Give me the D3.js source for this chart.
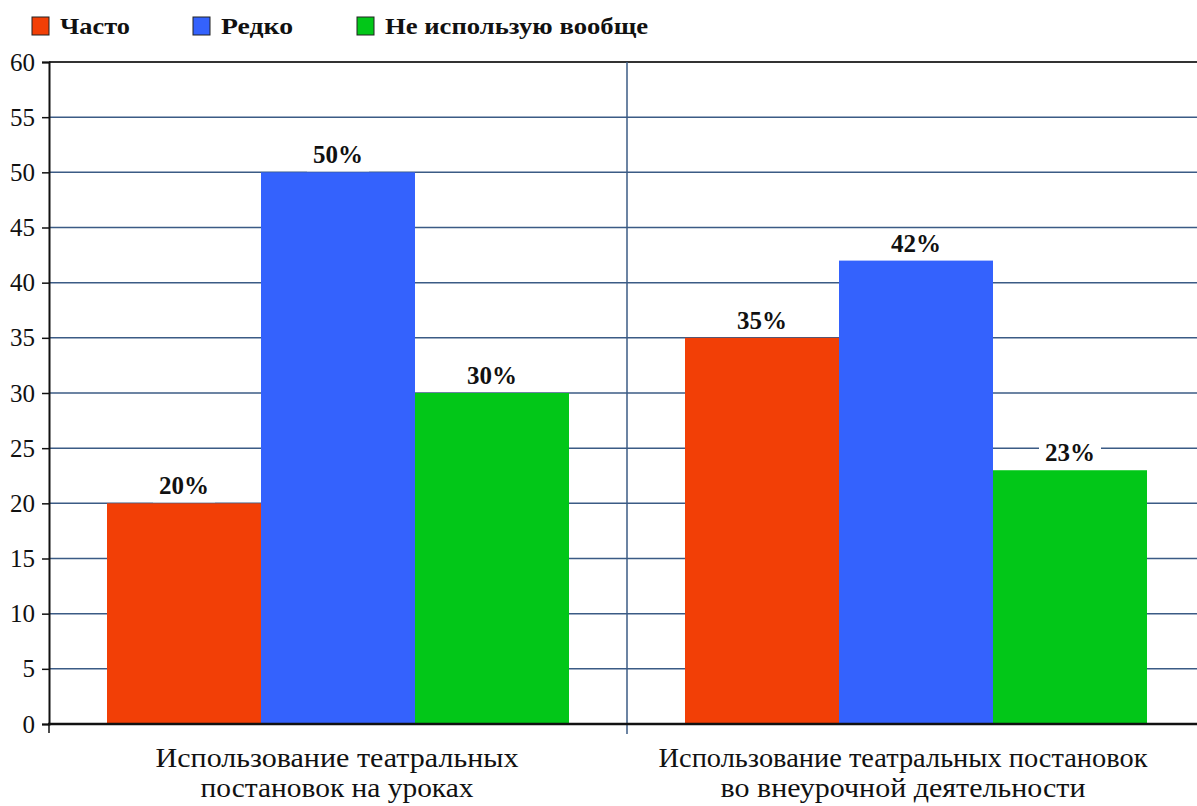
<!DOCTYPE html>
<html><head><meta charset="utf-8">
<script src="https://cdn.jsdelivr.net/npm/d3@7"></script>
<style>body{margin:0;background:#fff}svg{display:block}text{font-family:"Liberation Serif",Tinos,"Times New Roman",Times,"Noto Serif","DejaVu Serif",FreeSerif,serif}</style>
</head><body>
<svg id="c" width="1197" height="806"></svg>
<script>
const categories = [["Использование театральных","постановок на уроках"],["Использование театральных постановок","во внеурочной деятельности"]];
const seriesNames = ["Часто","Редко","Не использую вообще"];
const seriesColors = ["#f23f06","#3462fd","#02c718"];
const valuesOften = [20,35];
const valuesRarely = [50,42];
const valuesNever = [30,23];
const yTicks = [0,5,10,15,20,25,30,35,40,45,50,55,60];

(function(){
const series = [valuesOften, valuesRarely, valuesNever];
const svg = d3.select("#c");
const mLeft = 49, mTop = 62, mBottom = 724, mRight = 1205;
const x = d3.scaleBand().domain([0,1]).range([mLeft,mRight]).paddingInner(0).paddingOuter(0);
const y = d3.scaleLinear().domain([0,60]).range([mBottom,mTop]);

svg.append("g").selectAll("line").data(yTicks.filter(t=>t>0)).join("line")
  .attr("x1",mLeft).attr("x2",1197).attr("y1",d=>y(d)).attr("y2",d=>y(d))
  .attr("stroke",d=>d===60?"#333":"#3b5b85").attr("stroke-width",d=>d===60?2:1.5);
svg.append("line").attr("x1",x(1)).attr("x2",x(1)).attr("y1",mTop).attr("y2",mBottom+10)
  .attr("stroke","#3b5b85").attr("stroke-width",1.5);

const gw = x.bandwidth();
const pad = 58;
const bw = (gw - 2*pad)/3;
series.forEach((vals,si)=>{
  svg.append("g").selectAll("rect").data(vals).join("rect")
    .attr("x",(d,i)=>x(i)+pad+si*bw).attr("width",bw)
    .attr("y",d=>y(d)).attr("height",d=>mBottom-y(d))
    .attr("fill",seriesColors[si]);
});
series.forEach((vals,si)=>{
  const g = svg.append("g");
  vals.forEach((v,i)=>{
    const cx = x(i)+pad+si*bw+bw/2;
    g.append("rect").attr("x",cx-31).attr("y",y(v)-28).attr("width",62).attr("height",27).attr("fill","#fff");
    g.append("text").attr("x",cx).attr("y",y(v)-9).attr("text-anchor","middle")
      .attr("font-size",25).attr("font-weight","bold").attr("fill","#111")
      .attr("textLength",50).attr("lengthAdjust","spacingAndGlyphs").text(v+"%");
  });
});

const yAxis = d3.axisLeft(y).tickValues(yTicks).tickSize(7).tickPadding(7);
const ya = svg.append("g").attr("transform",`translate(${mLeft},0)`).call(yAxis);
ya.attr("font-family",null);
ya.select(".domain").attr("stroke","#111").attr("stroke-width",2);
ya.selectAll(".tick line").attr("stroke","#111").attr("stroke-width",1.5);
ya.selectAll("text").attr("font-size",25).attr("fill","#111");
svg.append("line").attr("x1",mLeft-1).attr("x2",1197).attr("y1",mBottom).attr("y2",mBottom).attr("stroke","#111").attr("stroke-width",2.5);
svg.append("line").attr("x1",mLeft).attr("x2",mLeft).attr("y1",mBottom).attr("y2",mBottom+9).attr("stroke","#111").attr("stroke-width",1.5);

const catW = [[363,273],[489,365]];
const catCx = [337, 903];
categories.forEach((lines,i)=>{
  lines.forEach((ln,j)=>svg.append("text").attr("text-anchor","middle").attr("font-size",28).attr("fill","#111")
    .attr("x",catCx[i]).attr("y",767+j*30)
    .attr("textLength",catW[i][j]).attr("lengthAdjust","spacingAndGlyphs").text(ln));
});

const legX = [32,193,357];
const legW = [70,72,263];
seriesNames.forEach((n,i)=>{
  svg.append("rect").attr("x",legX[i]).attr("y",17).attr("width",17).attr("height",18)
    .attr("fill",seriesColors[i]).attr("stroke","#222").attr("stroke-width",1);
  svg.append("text").attr("x",legX[i]+28).attr("y",34).attr("font-size",24).attr("font-weight","bold").attr("fill","#111")
    .attr("textLength",legW[i]).attr("lengthAdjust","spacingAndGlyphs").text(n);
});
})();
</script>
</body></html>
